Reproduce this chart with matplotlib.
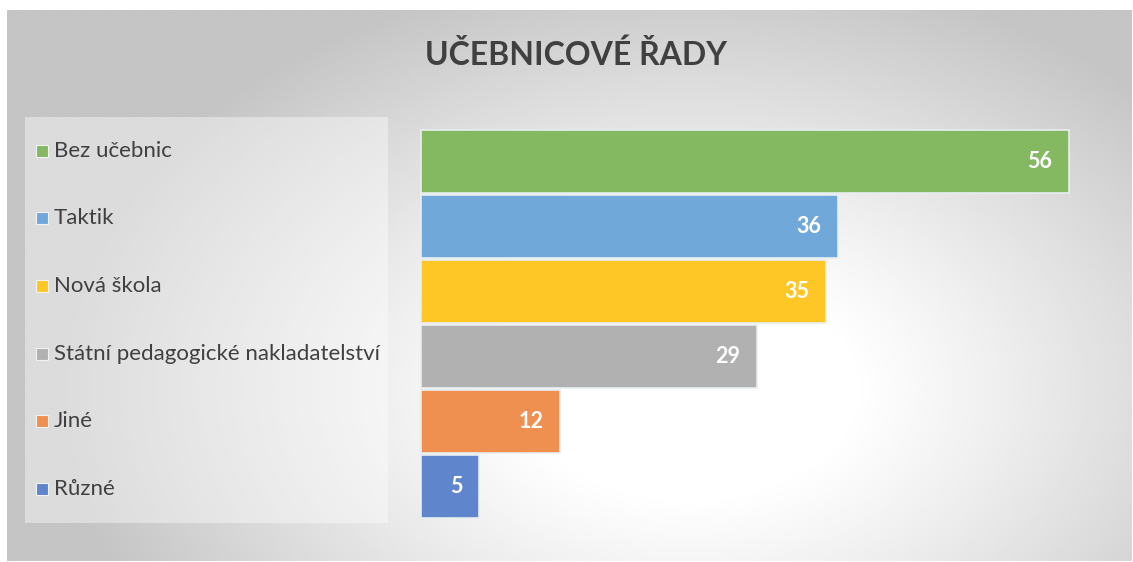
import numpy as np
import matplotlib
matplotlib.use('Agg')
import matplotlib.pyplot as plt
from matplotlib.patches import Rectangle

# data
categories = ['Bez učebnic', 'Taktik', 'Nová škola',
              'Státní pedagogické nakladatelství', 'Jiné', 'Různé']
values = [56, 36, 35, 29, 12, 5]
colors = ['#84B962', '#71A8DA', '#FFC726', '#B1B1B1', '#EF9051', '#5F86CC']
title = 'UČEBNICOVÉ ŘADY'

plt.rcParams['font.family'] = ['Lato', 'DejaVu Sans']
W, H = 1133, 562
fig = plt.figure(figsize=(W / 100, H / 100), dpi=100)
fig.patch.set_facecolor('white')

# radial gradient background
bg = fig.add_axes([7 / W, 1 / H, (W - 8) / W, (H - 11) / H])
xx, yy = np.meshgrid(np.linspace(7, W, 400), np.linspace(10, H, 200))
r = np.sqrt(((xx - 690) / 640) ** 2 + ((yy - 390) / 430) ** 2)
shade = 1 - 0.23 * np.clip((r - 0.25) / 0.75, 0, 1) ** 1.1
bg.imshow(shade, cmap='gray', vmin=0, vmax=1, aspect='auto',
          extent=[0, 1, 0, 1], origin='upper', interpolation='bilinear')
bg.set_axis_off()

# legend panel
fig.patches.append(Rectangle((25 / W, (H - 523) / H), 363 / W, 406 / H,
                             transform=fig.transFigure, facecolor='white',
                             alpha=0.4, edgecolor='none', zorder=1))

fig.text(576 / W, (H - 55) / H, title, ha='center', va='center',
         fontsize=23, fontweight='bold', color='#404040')

ax = fig.add_axes([421 / W, (H - 519) / H, 648 / W, 390 / H])
ax.patch.set_alpha(0)
y = np.arange(len(values))
bars = ax.barh(y, values, height=0.97, color=colors,
               edgecolor='#e8eef0', linewidth=1.2)
ax.set_xlim(0, 56)
ax.set_ylim(5.5, -0.5)
ax.set_axis_off()
for rect, v in zip(bars, values):
    rect.set_clip_on(False)
    ax.annotate(str(v), (v, rect.get_y() + rect.get_height() / 2),
                xytext=(-12, 0), textcoords='offset points',
                ha='right', va='center', color='white',
                fontsize=15.5, fontweight='bold')

# legend entries
leg_y = [151, 218, 286, 354, 421, 489]
for ly, c, lab in zip(leg_y, colors, categories):
    fig.patches.append(Rectangle((36 / W, (H - ly - 6) / H), 12 / W, 12 / H,
                                 transform=fig.transFigure, facecolor=c,
                                 edgecolor='#f2f2f2', linewidth=0.8, zorder=3))
    fig.text(54 / W, (H - ly) / H, lab, ha='left', va='center',
             fontsize=16, color='#404040')

fig.savefig('out.png', dpi=100)
